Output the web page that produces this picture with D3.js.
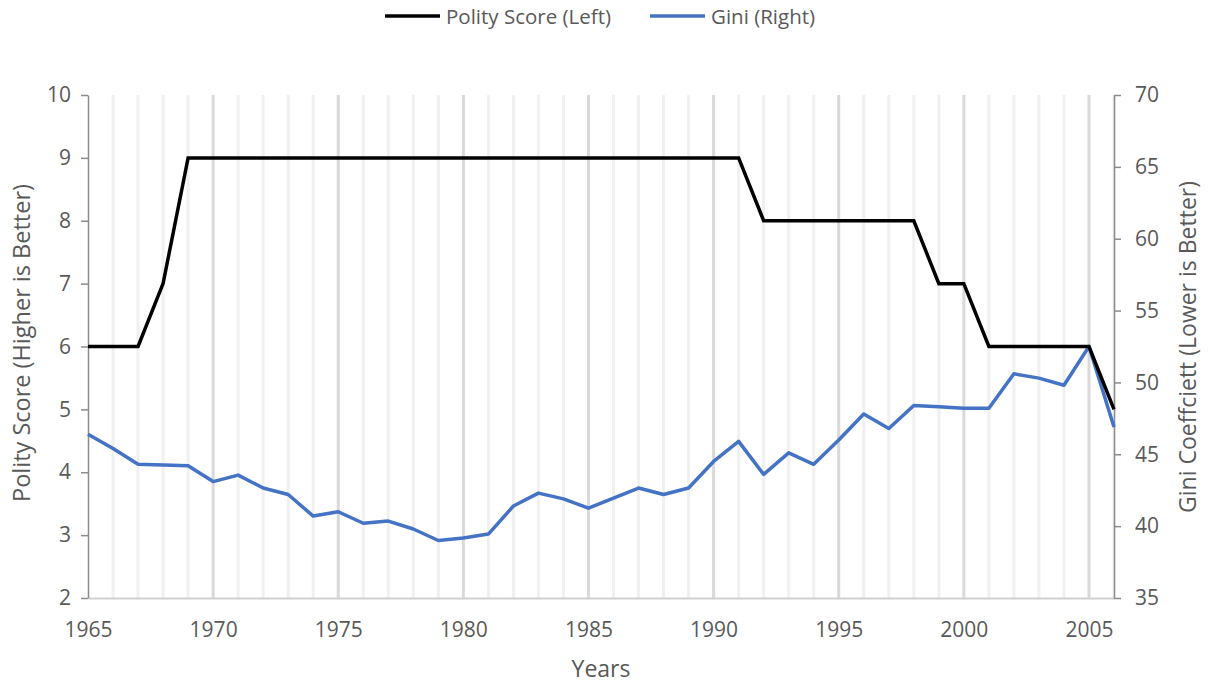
<!DOCTYPE html>
<html><head><meta charset="utf-8">
<script src="https://cdn.jsdelivr.net/npm/d3@7"></script>
<style>
body{margin:0;background:#fff;}
text{font-family:"Open Sans",sans-serif;fill:#595959;}
</style></head><body>
<svg id="c" width="1209" height="686"></svg>
<script>
const years = d3.range(1965, 2007);
const polity = [6,6,6,7,9,9,9,9,9,9,9,9,9,9,9,9,9,9,9,9,9,9,9,9,9,9,9,8,8,8,8,8,8,8,7,7,6,6,6,6,6,5];
const gini = [46.4,45.4,44.3,44.25,44.2,43.1,43.55,42.65,42.2,40.7,41.0,40.2,40.35,39.8,39.0,39.17,39.45,41.4,42.3,41.9,41.25,41.95,42.65,42.2,42.65,44.5,45.9,43.6,45.1,44.3,46.0,47.8,46.8,48.4,48.3,48.2,48.2,50.6,50.3,49.8,52.5,46.9];
const leftTicks = [2,3,4,5,6,7,8,9,10];
const rightTicks = [35,40,45,50,55,60,65,70];
const xTicks = [1965,1970,1975,1980,1985,1990,1995,2000,2005];

const svg = d3.select("#c");
const L = 88, R = 1114, T = 95, B = 598;
const x = d3.scaleLinear().domain([1965, 2006]).range([L, R]);
const yL = d3.scaleLinear().domain([2, 10]).range([B, T]);
const yR = d3.scaleLinear().domain([35, 70]).range([B, T]);

// gridlines
svg.append("g").selectAll("line").data(years.slice(1)).join("line")
  .attr("x1", d => x(d)).attr("x2", d => x(d)).attr("y1", T).attr("y2", B)
  .attr("stroke", d => d % 5 === 0 ? "#d9d9d9" : "#f0f0f0")
  .attr("stroke-width", 3);

// axes
const fs = "21px";
const gx = svg.append("g").attr("transform", `translate(0,${B})`)
  .call(d3.axisBottom(x).tickValues(xTicks).tickFormat(d3.format("d")).tickSize(0).tickPadding(24));
gx.select(".domain").attr("stroke", "#d0d0d0").attr("stroke-width", 2);
gx.selectAll("text").style("font-size", fs).attr("fill", "#595959");

const gl = svg.append("g").attr("transform", `translate(${L},0)`)
  .call(d3.axisLeft(yL).tickValues(leftTicks).tickSize(7).tickPadding(10).tickSizeOuter(0));
gl.select(".domain").attr("stroke", "#8c8c8c").attr("stroke-width", 1.5);
gl.selectAll(".tick line").attr("stroke", "#8c8c8c").attr("stroke-width", 1.5);
gl.selectAll("text").style("font-size", fs).attr("fill", "#595959");

const gr = svg.append("g").attr("transform", `translate(${R},0)`)
  .call(d3.axisRight(yR).tickValues(rightTicks).tickSize(7).tickPadding(14).tickSizeOuter(0));
gr.select(".domain").attr("stroke", "#8c8c8c").attr("stroke-width", 1.5);
gr.selectAll(".tick line").attr("stroke", "#8c8c8c").attr("stroke-width", 1.5);
gr.selectAll("text").style("font-size", fs).attr("fill", "#595959");

// lines
const polityLine = d3.line().x((d, i) => x(years[i])).y(d => yL(d));
const giniLine = d3.line().x((d, i) => x(years[i])).y(d => yR(d));
svg.append("path").attr("d", giniLine(gini)).attr("fill", "none")
  .attr("stroke", "#4472C4").attr("stroke-width", 3.5).attr("stroke-linejoin", "round");
svg.append("path").attr("d", polityLine(polity)).attr("fill", "none")
  .attr("stroke", "#000").attr("stroke-width", 3.5).attr("stroke-linejoin", "miter");

// axis titles
svg.append("text").attr("x", 601).attr("y", 677).attr("text-anchor", "middle")
  .style("font-size", "23px").text("Years");
svg.append("text").attr("transform", `translate(30,343) rotate(-90)`).attr("text-anchor", "middle")
  .style("font-size", "23.5px").text("Polity Score (Higher is Better)");
svg.append("text").attr("transform", `translate(1196,347) rotate(-90)`).attr("text-anchor", "middle")
  .style("font-size", "23px").text("Gini Coeffciett (Lower is Better)");

// legend
const leg = [{name: "Polity Score (Left)", color: "#000", x0: 385}, {name: "Gini (Right)", color: "#4472C4", x0: 650}];
leg.forEach(l => {
  svg.append("line").attr("x1", l.x0).attr("x2", l.x0 + 55).attr("y1", 16).attr("y2", 16)
    .attr("stroke", l.color).attr("stroke-width", 3.5);
  svg.append("text").attr("x", l.x0 + 61).attr("y", 23.5).style("font-size", "20.5px").text(l.name);
});
</script></body></html>
